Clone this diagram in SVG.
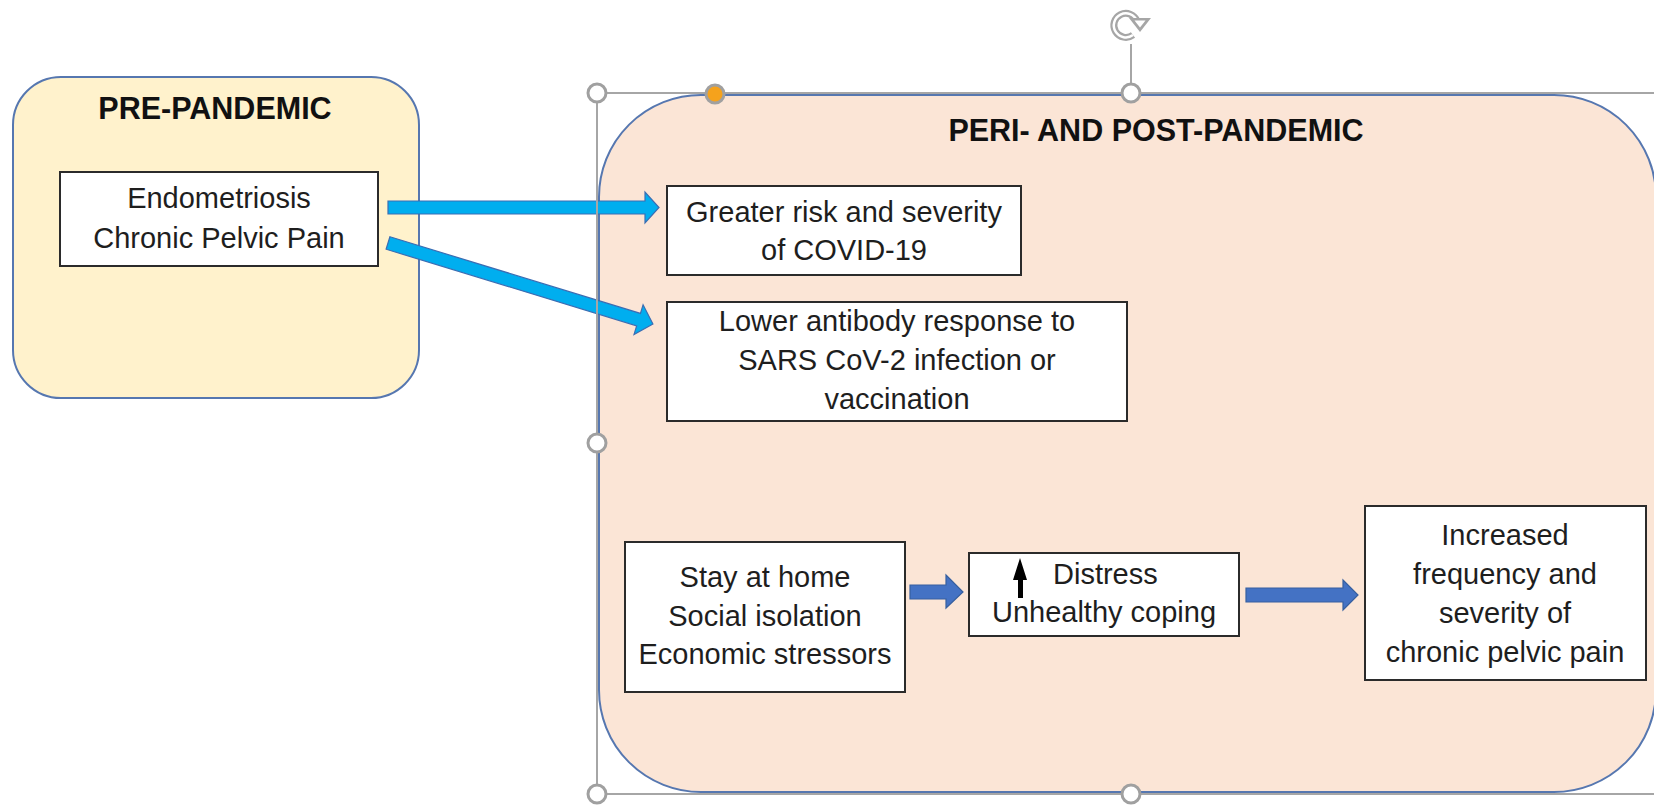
<svg xmlns="http://www.w3.org/2000/svg" width="1654" height="805" viewBox="0 0 1654 805">
<style>
.grp{stroke:#5677B0;stroke-width:2}
.box{fill:#fff;stroke:#2b2b2b;stroke-width:2}
.t{font-family:"Liberation Sans",Arial,sans-serif;font-size:29px;fill:#1e1e1e;text-anchor:middle}
.h{font-family:"Liberation Sans",Arial,sans-serif;font-size:30.5px;font-weight:bold;fill:#111;text-anchor:middle}
.cy{fill:#00AEEF;stroke:#3B6DB3;stroke-width:1.2}
.bl{fill:#4472C4;stroke:#365F9F;stroke-width:1.2}
.sel{fill:none;stroke:#A6A6A6;stroke-width:2}
.hd{fill:#fff;stroke:#A0A0A0;stroke-width:3}
</style>
<rect width="1654" height="805" fill="#fff"/>
<g id="pre-pandemic">
<rect class="grp" x="13" y="77" width="406" height="321" rx="48" fill="#FFF2CC"/>
<text class="h" x="215" y="119">PRE-PANDEMIC</text>
</g>
<g id="peri-post-pandemic">
<rect class="grp" x="599" y="95" width="1057" height="697" rx="102" fill="#FBE5D6"/>
<text class="h" x="1156" y="141">PERI- AND POST-PANDEMIC</text>
</g>
<g id="connectors">
<polygon class="cy" points="388,201 645,201 645,192 659,207.5 645,223 645,214 388,214"/>
<polygon class="cy" transform="translate(388,243) rotate(17)" points="0,-6.5 262,-6.5 262,-15.5 277,0 262,15.5 262,6.5 0,6.5"/>
<polygon class="bl" points="910,585 946,585 946,575 963,592 946,608 946,599 910,599"/>
<polygon class="bl" points="1246,588 1343,588 1343,580 1358,595 1343,610 1343,602 1246,602"/>
</g>
<g id="endometriosis">
<rect class="box" x="60" y="172" width="318" height="94"/>
<text class="t" x="219" y="208">Endometriosis</text>
<text class="t" x="219" y="248">Chronic Pelvic Pain</text>
</g>
<g id="covid-risk">
<rect class="box" x="667" y="186" width="354" height="89"/>
<text class="t" x="844" y="222">Greater risk and severity</text>
<text class="t" x="844" y="260">of COVID-19</text>
</g>
<g id="antibody">
<rect class="box" x="667" y="302" width="460" height="119"/>
<text class="t" x="897" y="331">Lower antibody response to</text>
<text class="t" x="897" y="370">SARS CoV-2 infection or</text>
<text class="t" x="897" y="409">vaccination</text>
</g>
<g id="stressors">
<rect class="box" x="625" y="542" width="280" height="150"/>
<text class="t" x="765" y="587">Stay at home</text>
<text class="t" x="765" y="626">Social isolation</text>
<text class="t" x="765" y="664">Economic stressors</text>
</g>
<g id="distress">
<rect class="box" x="969" y="553" width="270" height="83"/>
<polygon fill="#000" points="1020,558 1027,580 1023,580 1023,598 1018,598 1018,580 1013,580"/>
<text class="t" x="1053" y="584" style="text-anchor:start">Distress</text>
<text class="t" x="1104" y="622">Unhealthy coping</text>
</g>
<g id="pain-outcome">
<rect class="box" x="1365" y="506" width="281" height="174"/>
<text class="t" x="1505" y="545">Increased</text>
<text class="t" x="1505" y="584">frequency and</text>
<text class="t" x="1505" y="623">severity of</text>
<text class="t" x="1505" y="662">chronic pelvic pain</text>
</g>
<g id="selection">
<rect class="sel" x="597" y="93" width="1070" height="701"/>
<line class="sel" x1="1131" y1="44" x2="1131" y2="93"/>
<path d="M1133,35 A12,12 0 1 1 1137,21" fill="none" stroke="#A6A6A6" stroke-width="7"/>
<path d="M1133,35 A12,12 0 1 1 1137,21" fill="none" stroke="#fff" stroke-width="2.5"/>
<polygon points="1129,18 1151,18 1140,32" fill="#A6A6A6"/>
<polygon points="1134.5,20.5 1145.5,20.5 1140,27.5" fill="#fff"/>
<circle class="hd" cx="597" cy="93" r="9"/>
<circle class="hd" cx="1131" cy="93" r="9"/>
<circle cx="715" cy="94" r="9" fill="#F5A21C" stroke="#A0A0A0" stroke-width="3"/>
<circle class="hd" cx="597" cy="443" r="9"/>
<circle class="hd" cx="597" cy="794" r="9"/>
<circle class="hd" cx="1131" cy="794" r="9"/>
</g>
</svg>
